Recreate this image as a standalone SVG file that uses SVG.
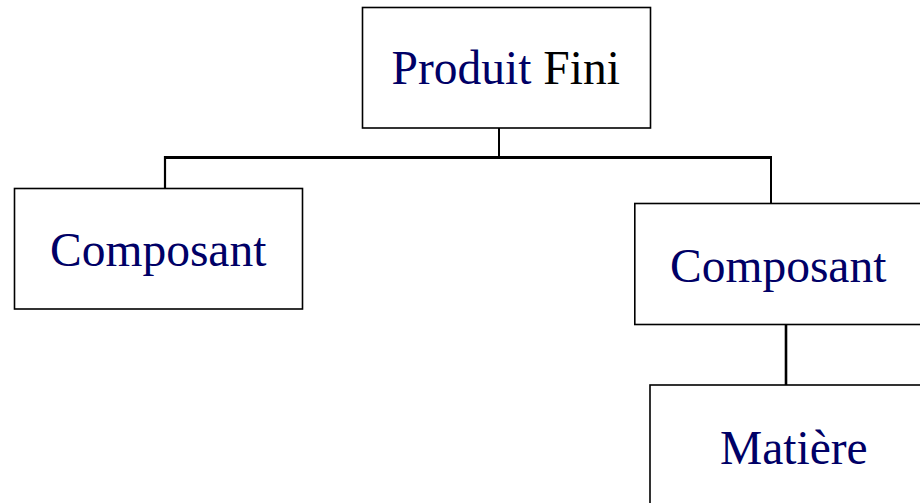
<svg xmlns="http://www.w3.org/2000/svg" width="920" height="503" viewBox="0 0 920 503">
<style>
.box{fill:#fff;stroke:#000;stroke-width:1.6}
.lbl{font-family:"Liberation Serif","Times New Roman",serif;font-size:47.5px;fill:#000066}
.conn{fill:none;stroke:#000;stroke-linecap:butt}
</style>
<rect width="920" height="503" fill="#fff"/>
<g id="connectors">
<line class="conn" x1="499" y1="128" x2="499" y2="157" stroke-width="2"/>
<line class="conn" x1="164" y1="157.5" x2="772" y2="157.5" stroke-width="3"/>
<line class="conn" x1="165" y1="156" x2="165" y2="188" stroke-width="2.2"/>
<line class="conn" x1="771" y1="156" x2="771" y2="203" stroke-width="2"/>
<line class="conn" x1="786" y1="324" x2="786" y2="385" stroke-width="2.6"/>
</g>
<g id="produit-fini">
<rect class="box" x="362.5" y="7.5" width="288" height="120.5"/>
<text class="lbl" x="391.5" y="84">Produit <tspan fill="#000">Fini</tspan></text>
</g>
<g id="composant-1">
<rect class="box" x="14.5" y="188.5" width="288" height="120.5"/>
<text class="lbl" x="50" y="266">Composant</text>
</g>
<g id="composant-2">
<rect class="box" x="634.8" y="203.5" width="300" height="121"/>
<text class="lbl" x="670" y="282">Composant</text>
</g>
<g id="matiere">
<rect class="box" x="650" y="385" width="290" height="130"/>
<text class="lbl" x="720" y="464">Matière</text>
</g>
</svg>
